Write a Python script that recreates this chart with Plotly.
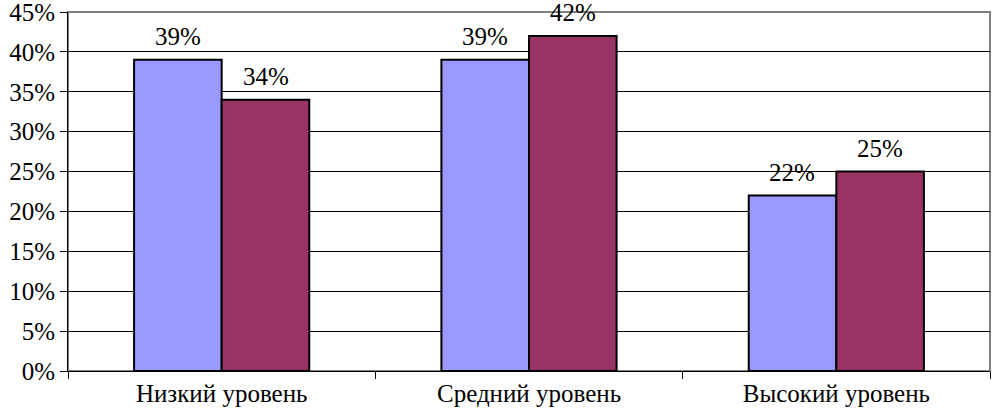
import plotly.graph_objects as go

categories = ["Низкий уровень", "Средний уровень", "Высокий уровень"]
series1 = [39, 39, 22]
series2 = [34, 42, 25]
y_ticks = [0, 5, 10, 15, 20, 25, 30, 35, 40, 45]
y_labels = [f"{v}%" for v in y_ticks]

font = dict(family="Liberation Serif", size=25, color="black")

fig = go.Figure()
fig.add_bar(x=categories, y=series1, marker=dict(color="#9999FF", line=dict(color="black", width=2)),
            offsetgroup="a")
fig.add_bar(x=categories, y=series2, marker=dict(color="#993366", line=dict(color="black", width=2)),
            offsetgroup="b")

for cat, v1, v2 in zip(categories, series1, series2):
    fig.add_annotation(x=cat, y=v1, text=f"{v1}%", showarrow=False, xshift=-44, yshift=23,
                       font=font, yanchor="middle")
    fig.add_annotation(x=cat, y=v2, text=f"{v2}%", showarrow=False, xshift=44, yshift=23,
                       font=font, yanchor="middle")

fig.update_layout(
    width=995, height=416,
    margin=dict(l=68, r=5, t=12, b=45),
    barmode="group", bargap=0.43, bargroupgap=0,
    plot_bgcolor="white", paper_bgcolor="white",
    showlegend=False, font=font,
    xaxis=dict(showgrid=False, ticks="outside", tickson="boundaries", ticklen=7,
               tickcolor="black", showline=True, linecolor="black", linewidth=1,
               tickfont=font, automargin=False),
    yaxis=dict(range=[0, 45], tickvals=y_ticks, ticktext=y_labels, showgrid=True,
               gridcolor="black", gridwidth=1, ticks="outside", ticklen=7, tickcolor="black",
               showline=True, linecolor="black", linewidth=1, zeroline=False, tickfont=font,
               automargin=False, ticklabeloverflow="allow"),
)
fig.add_shape(type="rect", xref="paper", yref="paper", x0=0, x1=1, y0=0, y1=1,
              line=dict(color="#808080", width=2), layer="below")
fig.write_html("out.html", config={"displayModeBar": False},
               post_script="document.body.style.margin='0';document.body.style.overflow='hidden';")
